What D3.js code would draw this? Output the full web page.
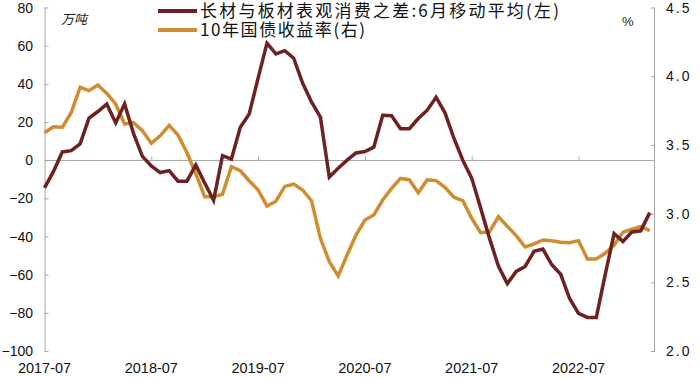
<!DOCTYPE html>
<html>
<head>
<meta charset="utf-8">
<script src="https://cdn.jsdelivr.net/npm/d3@7"></script>
<style>
  html, body { margin: 0; padding: 0; background: #ffffff; }
  svg { display: block; }
</style>
</head>
<body>
<svg id="chart" width="700" height="378"></svg>
<script>
// ---- data ----
const months = d3.timeMonth.range(new Date(2017, 6, 1), new Date(2023, 3, 1)).map(d3.timeFormat("%Y-%m")); // 2017-07 .. 2023-03

const seriesNames = ["长材与板材表观消费之差:6月移动平均(左)", "10年国债收益率(右)"];

const steelDiff = [
  -14.5, -6, 4.3, 5, 8.5, 22, 25.5, 29.4, 19.5, 29.5,
  14, 2, -3, -6.5, -5.5, -11, -11, -2.5, -12, -21,
  2.4, 0.5, 17.3, 24.2, 43, 61.3, 55.7, 57.4, 53.4, 40.4,
  30.5, 22.6, -8.8, -4.2, 0, 3.8, 4.5, 6.8, 23.5, 23.3,
  16.5, 16.5, 21.8, 26.2, 33, 24.8, 11.5, 0, -9.4, -25,
  -41, -55.5, -64.7, -58.3, -55.7, -47.8, -46.6, -54.8, -59.8, -72.5,
  -80.3, -82.4, -82.4, -60, -38.5, -42.6, -37.6, -37, -27.5
];

const bondYield = [
  3.589, 3.632, 3.628, 3.734, 3.919, 3.895, 3.936, 3.875, 3.798, 3.652,
  3.662, 3.603, 3.512, 3.566, 3.642, 3.572, 3.445, 3.29, 3.123, 3.123,
  3.14, 3.341, 3.312, 3.239, 3.172, 3.055, 3.09, 3.198, 3.215, 3.172,
  3.094, 2.82, 2.65, 2.546, 2.699, 2.844, 2.953, 2.99, 3.099, 3.184,
  3.257, 3.245, 3.152, 3.245, 3.24, 3.191, 3.119, 3.094, 2.966, 2.861,
  2.868, 2.977, 2.908, 2.84, 2.757, 2.779, 2.808, 2.803, 2.791, 2.788,
  2.803, 2.67, 2.67, 2.711, 2.771, 2.864, 2.886, 2.905, 2.876
];

const xTickLabels = ["2017-07", "2018-07", "2019-07", "2020-07", "2021-07", "2022-07"];
const leftTicks = [80, 60, 40, 20, 0, -20, -40, -60, -80, -100];
const rightTicks = [4.5, 4.0, 3.5, 3.0, 2.5, 2.0];

// ---- layout ----
const plotLeft = 44.5, plotRight = 655, plotTop = 7.5, plotBottom = 351;
const colorSteel = "#6e2121";
const colorYield = "#cf8d30";
const axisColor = "#a8a8a8";
const numFont = "'Liberation Sans', Arial, sans-serif";
const cjkFont = "'Noto Sans CJK SC', 'Noto Sans', sans-serif";

const svg = d3.select("#chart");

const x = d3.scalePoint().domain(months).range([plotLeft, 649.7]);
const yL = d3.scaleLinear().domain([-100, 80]).range([plotBottom, plotTop]);
const yR = d3.scaleLinear().domain([2.0, 4.5]).range([plotBottom, plotTop]);

// left axis
const leftAxis = d3.axisRight(yL).tickValues(leftTicks).tickSize(4).tickFormat("");
const gL = svg.append("g").attr("transform", `translate(${plotLeft},0)`).call(leftAxis);
gL.select(".domain").attr("d", `M0.5,${plotTop}V${plotBottom}`);
gL.selectAll("path, line").attr("stroke", axisColor).attr("stroke-width", 1);
svg.append("g").selectAll("text").data(leftTicks).join("text")
  .attr("x", 33).attr("y", d => yL(d)).attr("dy", "0.36em")
  .attr("text-anchor", "end")
  .attr("font-family", numFont).attr("font-size", 14).attr("fill", "#111")
  .text(d => d < 0 ? "\u2212" + Math.abs(d) : d);

// right axis
const rightAxis = d3.axisLeft(yR).tickValues(rightTicks).tickSize(4).tickFormat("");
const gR = svg.append("g").attr("transform", `translate(${plotRight},0)`).call(rightAxis);
gR.select(".domain").attr("d", `M-0.5,${plotTop}V${plotBottom}`);
gR.selectAll("path, line").attr("stroke", axisColor).attr("stroke-width", 1);
svg.append("g").selectAll("text").data(rightTicks).join("text")
  .attr("x", 666).attr("y", d => yR(d)).attr("dy", "0.36em")
  .attr("text-anchor", "start")
  .attr("font-family", numFont).attr("font-size", 14).attr("fill", "#111")
  .attr("letter-spacing", 2)
  .text(d => d.toFixed(1));

// zero line (x axis) with upward ticks
const xAxis = d3.axisTop(x).tickValues(xTickLabels.slice(1)).tickSize(4).tickFormat("");
const gX = svg.append("g").attr("transform", `translate(0,${Math.round(yL(0)) + 0.5})`).call(xAxis);
gX.select(".domain").attr("d", `M${plotLeft},0H${plotRight}`);
gX.selectAll("path, line").attr("stroke", axisColor).attr("stroke-width", 1);

// x tick labels at bottom
svg.append("g").selectAll("text").data(xTickLabels).join("text")
  .attr("x", d => x(d)).attr("y", 373)
  .attr("text-anchor", "middle")
  .attr("font-family", numFont).attr("font-size", 14.5).attr("fill", "#111")
  .text(d => d);

// unit labels
svg.append("text").attr("x", 61).attr("y", 24)
  .attr("font-family", cjkFont).attr("font-size", 13).attr("font-style", "italic").attr("fill", "#222")
  .text("万吨");
svg.append("text").attr("x", 622).attr("y", 26)
  .attr("font-family", numFont).attr("font-size", 13).attr("fill", "#222")
  .text("%");

// lines
const lineL = d3.line().x((d, i) => x(months[i])).y(d => yL(d));
const lineR = d3.line().x((d, i) => x(months[i])).y(d => yR(d));

svg.append("path").datum(bondYield)
  .attr("d", lineR).attr("fill", "none")
  .attr("stroke", colorYield).attr("stroke-width", 3.5).attr("stroke-linejoin", "miter");

svg.append("path").datum(steelDiff)
  .attr("d", lineL).attr("fill", "none")
  .attr("stroke", colorSteel).attr("stroke-width", 3.5).attr("stroke-linejoin", "miter");

// legend
const legend = [
  { name: seriesNames[0], color: colorSteel, y: 11, len: 359 },
  { name: seriesNames[1], color: colorYield, y: 30, len: 165 }
];
const lg = svg.append("g");
legend.forEach(l => {
  lg.append("line").attr("x1", 158).attr("x2", 197).attr("y1", l.y).attr("y2", l.y)
    .attr("stroke", l.color).attr("stroke-width", 4);
  lg.append("text").attr("x", 200).attr("y", l.y).attr("dy", "0.36em")
    .attr("font-family", cjkFont).attr("font-size", 17).attr("fill", "#111")
    .attr("textLength", l.len).attr("lengthAdjust", "spacing")
    .text(l.name);
});
</script>
</body>
</html>
